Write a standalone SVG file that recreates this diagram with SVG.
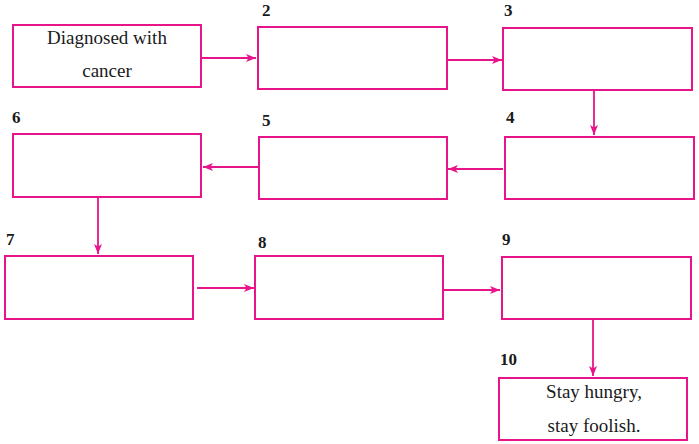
<svg xmlns="http://www.w3.org/2000/svg" width="699" height="444" viewBox="0 0 699 444" font-family="Liberation Serif, DejaVu Serif, serif">
<defs>
<marker id="ah" markerWidth="10" markerHeight="8" refX="10" refY="4" orient="auto" markerUnits="userSpaceOnUse">
<path d="M0,0 L10,4 L0,8 L2.5,4 Z" fill="#e8158a"/>
</marker>
<style>
.box{fill:#fff;stroke:#e8158a;stroke-width:2}
.con{stroke:#e8158a;stroke-width:1.8;fill:none;marker-end:url(#ah)}
.num{font-size:17px;font-weight:bold;fill:#1a1a1a}
.txt{font-size:19px;fill:#1a1a1a;text-anchor:middle}
</style>
</defs>
<rect width="699" height="444" fill="#fff"/>
<g id="connectors">
<line class="con" x1="201" y1="58" x2="256" y2="58"/>
<line class="con" x1="447" y1="60" x2="502" y2="60"/>
<line class="con" x1="594" y1="90" x2="594" y2="135"/>
<line class="con" x1="503" y1="169" x2="448" y2="169"/>
<line class="con" x1="258" y1="167" x2="203" y2="167"/>
<line class="con" x1="98" y1="198" x2="98" y2="254"/>
<line class="con" x1="197" y1="288" x2="254" y2="288"/>
<line class="con" x1="443" y1="290" x2="500" y2="290"/>
<line class="con" x1="593" y1="319" x2="593" y2="376"/>
</g>
<g id="node1">
<rect class="box" x="13" y="25" width="188" height="62"/>
<text class="txt" x="107" y="44" font-family="Liberation Serif, serif">Diagnosed with</text>
<text class="txt" x="107" y="77" font-family="Liberation Serif, serif">cancer</text>
</g>
<g id="node2">
<text class="num" x="262" y="16" font-family="Liberation Serif, serif">2</text>
<rect class="box" x="258" y="27" width="189" height="62"/>
</g>
<g id="node3">
<text class="num" x="504" y="16" font-family="Liberation Serif, serif">3</text>
<rect class="box" x="503" y="28" width="189" height="62"/>
</g>
<g id="node4">
<text class="num" x="506" y="123" font-family="Liberation Serif, serif">4</text>
<rect class="box" x="505" y="137" width="189" height="62"/>
</g>
<g id="node5">
<text class="num" x="262" y="126" font-family="Liberation Serif, serif">5</text>
<rect class="box" x="259" y="137" width="188" height="62"/>
</g>
<g id="node6">
<text class="num" x="12" y="123" font-family="Liberation Serif, serif">6</text>
<rect class="box" x="13" y="134" width="188" height="63"/>
</g>
<g id="node7">
<text class="num" x="6" y="245" font-family="Liberation Serif, serif">7</text>
<rect class="box" x="5" y="256" width="188" height="63"/>
</g>
<g id="node8">
<text class="num" x="258" y="248" font-family="Liberation Serif, serif">8</text>
<rect class="box" x="255" y="256" width="188" height="63"/>
</g>
<g id="node9">
<text class="num" x="502" y="245" font-family="Liberation Serif, serif">9</text>
<rect class="box" x="502" y="257" width="189" height="62"/>
</g>
<g id="node10">
<text class="num" x="500" y="365" font-family="Liberation Serif, serif">10</text>
<rect class="box" x="499" y="378" width="188" height="62"/>
<text class="txt" x="594" y="398" font-family="Liberation Serif, serif">Stay hungry,</text>
<text class="txt" x="594" y="432" font-family="Liberation Serif, serif">stay foolish.</text>
</g>
</svg>
